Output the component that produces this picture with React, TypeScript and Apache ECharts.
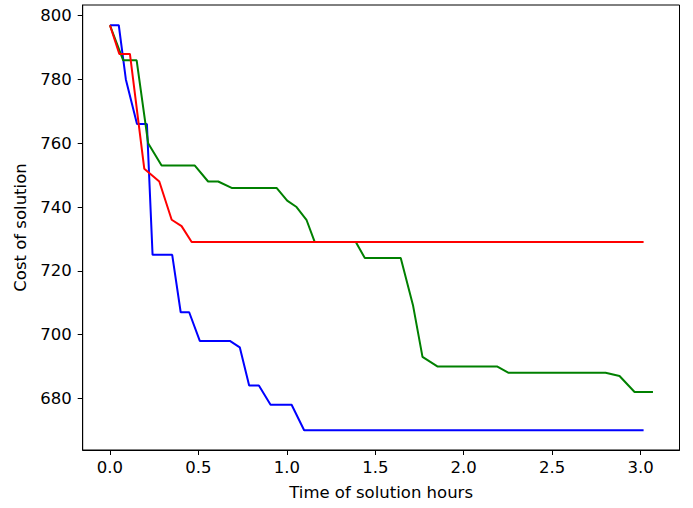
import React, { useEffect, useRef } from "react";
import * as echarts from "echarts";

const blueTime = [0, 0.05, 0.09, 0.153, 0.209, 0.241, 0.352, 0.4, 0.448, 0.508, 0.678, 0.734, 0.787, 0.842, 0.908, 1.027, 1.098, 3.017];
const blueCost = [797, 797, 780, 766, 766, 725, 725, 707, 707, 698, 698, 696, 684, 684, 678, 678, 670, 670];

const greenTime = [0, 0.075, 0.151, 0.216, 0.292, 0.48, 0.555, 0.612, 0.688, 0.942, 1.002, 1.055, 1.111, 1.158, 1.39, 1.441, 1.644, 1.714, 1.767, 1.851, 2.188, 2.254, 2.802, 2.881, 2.966, 3.07];
const greenCost = [797, 786, 786, 760, 753, 753, 748, 748, 746, 746, 742, 740, 736, 729, 729, 724, 724, 709, 693, 690, 690, 688, 688, 687, 682, 682];

const redTime = [0, 0.053, 0.113, 0.194, 0.279, 0.349, 0.405, 0.462, 3.017];
const redCost = [797, 788, 788, 752, 748, 736, 734, 729, 729];

const xTicks = [0, 0.5, 1.0, 1.5, 2.0, 2.5, 3.0];
const yTicks = [680, 700, 720, 740, 760, 780, 800];

const zip = (a: number[], b: number[]) => a.map((v, i) => [v, b[i]]);

export default function App() {
  const ref = useRef<HTMLDivElement>(null);
  useEffect(() => {
    if (!ref.current) return;
    const chart = echarts.init(ref.current, null, { renderer: "svg" });
    const font = "DejaVu Sans";
    const fs = 16.5;
    const line = (name: string, color: string, data: number[][]) => ({
      name,
      type: "line",
      data,
      showSymbol: false,
      symbol: "none",
      lineStyle: { color, width: 2 },
      itemStyle: { color },
    });
    chart.setOption({
      animation: false,
      backgroundColor: "#ffffff",
      grid: {
        left: 82.7,
        right: 13.5,
        top: 5,
        bottom: 58,
        show: true,
        borderColor: "#000000",
        borderWidth: 1,
        backgroundColor: "transparent",
      },
      xAxis: {
        type: "value",
        min: -0.154,
        max: 3.22,
        name: "Time of solution hours",
        nameLocation: "middle",
        nameGap: 34,
        nameTextStyle: { color: "#000", fontFamily: font, fontSize: fs },
        axisLine: { show: true, onZero: false, lineStyle: { color: "#000", width: 1 } },
        axisTick: { show: true, inside: false, length: 5, customValues: xTicks, lineStyle: { color: "#000", width: 1 } },
        axisLabel: {
          customValues: xTicks,
          color: "#000",
          fontFamily: font,
          fontSize: fs,
          margin: 9,
          formatter: (v: number) => v.toFixed(1),
        },
        splitLine: { show: false },
      },
      yAxis: {
        type: "value",
        min: 663.8,
        max: 803.35,
        name: "Cost of solution",
        nameLocation: "middle",
        nameGap: 52,
        nameRotate: 90,
        nameTextStyle: { color: "#000", fontFamily: font, fontSize: fs },
        axisLine: { show: true, onZero: false, lineStyle: { color: "#000", width: 1 } },
        axisTick: { show: true, inside: false, length: 5, customValues: yTicks, lineStyle: { color: "#000", width: 1 } },
        axisLabel: {
          customValues: yTicks,
          color: "#000",
          fontFamily: font,
          fontSize: fs,
          margin: 11,
        },
        splitLine: { show: false },
      },
      series: [
        line("blue", "#0000ff", zip(blueTime, blueCost)),
        line("green", "#008000", zip(greenTime, greenCost)),
        line("red", "#ff0000", zip(redTime, redCost)),
      ],
    });
    return () => chart.dispose();
  }, []);
  return (
    <div
      ref={ref}
      style={{ position: "fixed", left: 0, top: 0, width: 693, height: 508 }}
    />
  );
}
